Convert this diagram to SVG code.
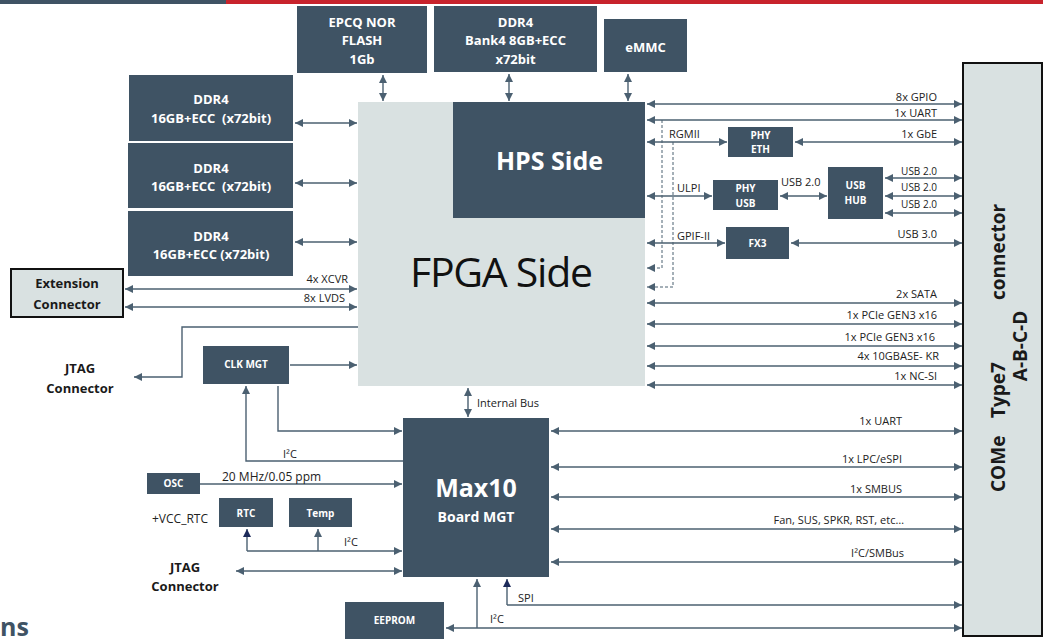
<svg xmlns="http://www.w3.org/2000/svg" width="1043" height="639" viewBox="0 0 1043 639">
<style>
.n{fill:#3f5364}
.g{fill:#d9e1e1}
.t{font-family:"Open Sans","Liberation Sans",sans-serif;font-weight:700;fill:#fff;text-anchor:middle}
.b{font-family:"Open Sans","Liberation Sans",sans-serif;font-weight:700;fill:#1a1a1a;text-anchor:middle;font-size:13px}
.k{font-family:"Open Sans","Liberation Sans",sans-serif;font-weight:700;fill:#1a1a1a;font-size:19px}
.l{font-family:"Open Sans","Liberation Sans",sans-serif;font-size:11px;fill:#222}
.r{text-anchor:end}
.c{stroke:#4b6071;stroke-width:1.4;fill:none}
.d{marker-start:url(#a);marker-end:url(#a)}
.e{marker-end:url(#a)}
.v{marker-end:url(#an)}
.h{stroke-dasharray:3 2;stroke-width:1}
</style>
<defs>
<marker id="a" viewBox="0 0 10 10" refX="10" refY="5" markerWidth="9" markerHeight="8" markerUnits="userSpaceOnUse" orient="auto-start-reverse"><path d="M0,0L10,5L0,10z" fill="#4b6071"/></marker>
<marker id="an" viewBox="0 0 10 10" refX="10" refY="5" markerWidth="9" markerHeight="8" markerUnits="userSpaceOnUse" orient="auto-start-reverse"><path d="M0,0L10,5L0,10z" fill="#1c2a5a"/></marker>
</defs>
<rect x="0" y="0" width="226" height="4" fill="#3f5364"/>
<rect x="226" y="0" width="817" height="4" fill="#c8232c"/>

<g id="connectors">
<path class="c d" d="M383,75V101"/>
<path class="c d" d="M509,74V101"/>
<path class="c d" d="M628,74V101"/>
<path class="c d" d="M295,123H357"/>
<path class="c d" d="M295,183H357"/>
<path class="c d" d="M295,242H357"/>
<path class="c d" d="M125,289H357"/>
<path class="c d" d="M125,307H357"/>
<path class="c e" d="M362,327H182V377H134"/>
<path class="c e" d="M290,365H357"/>
<path class="c d" d="M468,388V417"/>
<path class="c e" d="M403,461H246V386"/>
<path class="c e" d="M278,386V431H402"/>
<path class="c e" d="M200,484H402"/>
<path class="c e" d="M247,551H402"/>
<path class="c v" d="M247,551V529"/>
<path class="c e" d="M318,551V529"/>
<path class="c d" d="M236,571H402"/>
<path class="c d" d="M551,431H962"/>
<path class="c d" d="M551,467H962"/>
<path class="c d" d="M551,497H962"/>
<path class="c d" d="M551,529H962"/>
<path class="c d" d="M551,562H962"/>
<path class="c v" d="M507,605V579"/>
<path class="c e" d="M507,605H962"/>
<path class="c d" d="M446,628H962"/>
<path class="c e" d="M477,628V579"/>
<path class="c d" d="M647,104H962"/>
<path class="c d" d="M647,120H962"/>
<path class="c d" d="M647,142H727"/>
<path class="c d" d="M795,142H962"/>
<path class="c d" d="M647,196H712"/>
<path class="c d" d="M780,196H827"/>
<path class="c d" d="M885,178H962"/>
<path class="c d" d="M885,196H962"/>
<path class="c d" d="M885,213H962"/>
<path class="c d" d="M647,243H725"/>
<path class="c d" d="M791,243H962"/>
<path class="c h e" d="M662,120V268H647"/>
<path class="c h e" d="M673,142V287H647"/>
<path class="c d" d="M647,303H962"/>
<path class="c d" d="M647,324H962"/>
<path class="c d" d="M647,346H962"/>
<path class="c d" d="M647,366H962"/>
<path class="c d" d="M647,385H962"/>
</g>

<g id="labels" class="l">
<text class="r" x="937" y="101">8x GPIO</text>
<text class="r" x="937" y="117">1x UART</text>
<text x="669" y="138">RGMII</text>
<text class="r" x="937" y="138">1x GbE</text>
<text x="677" y="192">ULPI</text>
<text x="781" y="186">USB 2.0</text>
<text class="r" x="937" y="175" font-size="10">USB 2.0</text>
<text class="r" x="937" y="191" font-size="10">USB 2.0</text>
<text class="r" x="937" y="208" font-size="10">USB 2.0</text>
<text x="677" y="240">GPIF-II</text>
<text class="r" x="937" y="238">USB 3.0</text>
<text class="r" x="937" y="298">2x SATA</text>
<text class="r" x="937" y="319">1x PCIe GEN3 x16</text>
<text class="r" x="935" y="341">1x PCIe GEN3 x16</text>
<text class="r" x="939" y="360">4x 10GBASE- KR</text>
<text class="r" x="937" y="380">1x NC-SI</text>
<text class="r" x="902" y="425">1x UART</text>
<text class="r" x="902" y="463">1x LPC/eSPI</text>
<text class="r" x="902" y="493">1x SMBUS</text>
<text class="r" x="904" y="524">Fan, SUS, SPKR, RST, etc…</text>
<text class="r" x="904" y="557">I²C/SMBus</text>
<text x="518" y="602">SPI</text>
<text x="490" y="623">I²C</text>
<text x="477" y="407">Internal Bus</text>
<text class="r" x="348" y="283">4x XCVR</text>
<text class="r" x="345" y="302">8x LVDS</text>
<text x="283" y="458">I²C</text>
<text x="222" y="481" font-size="12">20 MHz/0.05 ppm</text>
<text x="344" y="546">I²C</text>
<text x="152" y="523" font-size="12">+VCC_RTC</text>
</g>

<g id="ddr1"><rect class="n" x="129" y="75" width="164" height="66"/><text class="t" font-size="13" x="211" y="104">DDR4</text><text class="t" font-size="13" x="211" y="123" xml:space="preserve">16GB+ECC  (x72bit)</text></g>
<g id="ddr2"><rect class="n" x="128" y="143" width="165" height="65"/><text class="t" font-size="13" x="211" y="173">DDR4</text><text class="t" font-size="13" x="211" y="191" xml:space="preserve">16GB+ECC  (x72bit)</text></g>
<g id="ddr3"><rect class="n" x="128" y="211" width="165" height="65"/><text class="t" font-size="13" x="211" y="241">DDR4</text><text class="t" font-size="13" x="211" y="259">16GB+ECC (x72bit)</text></g>
<g id="epcq"><rect class="n" x="297" y="6" width="130" height="67"/><text class="t" font-size="13" x="362" y="27">EPCQ NOR</text><text class="t" font-size="13" x="362" y="45">FLASH</text><text class="t" font-size="13" x="362" y="64">1Gb</text></g>
<g id="ddr4bank4"><rect class="n" x="434" y="6" width="163" height="66"/><text class="t" font-size="13" x="515.5" y="27">DDR4</text><text class="t" font-size="13" x="515.5" y="45">Bank4 8GB+ECC</text><text class="t" font-size="13" x="515.5" y="64">x72bit</text></g>
<g id="emmc"><rect class="n" x="604" y="19" width="83" height="53"/><text class="t" font-size="13" x="645.5" y="52">eMMC</text></g>
<g id="fpga"><rect class="g" x="358" y="102" width="287" height="284"/><text x="501.5" y="287" font-family="Open Sans, Liberation Sans, sans-serif" font-size="41" fill="#111" text-anchor="middle" textLength="183">FPGA Side</text></g>
<g id="hps"><rect class="n" x="453" y="102" width="192" height="116"/><text class="t" font-size="25" x="549.5" y="170">HPS Side</text></g>
<g id="phyeth"><rect class="n" x="728" y="127" width="65" height="30"/><text class="t" font-size="10" x="760.5" y="139">PHY</text><text class="t" font-size="10" x="760.5" y="153">ETH</text></g>
<g id="phyusb"><rect class="n" x="713" y="180" width="65" height="30"/><text class="t" font-size="10" x="745.5" y="192">PHY</text><text class="t" font-size="10" x="745.5" y="207">USB</text></g>
<g id="usbhub"><rect class="n" x="828" y="167" width="55" height="52"/><text class="t" font-size="10" x="855.5" y="189">USB</text><text class="t" font-size="10" x="855.5" y="204">HUB</text></g>
<g id="fx3"><rect class="n" x="726" y="227" width="63" height="32"/><text class="t" font-size="10" x="757.5" y="247">FX3</text></g>
<g id="come"><rect class="g" x="963" y="63" width="79" height="573" stroke="#111" stroke-width="2"/>
<text class="k" transform="translate(1005,0) rotate(-90)"><tspan x="-492">COMe</tspan><tspan x="-418">Type7</tspan><tspan x="-300">connector</tspan></text>
<text class="k" text-anchor="middle" transform="translate(1027,346) rotate(-90)">A-B-C-D</text></g>
<g id="ext"><rect class="g" x="11" y="269" width="112" height="48" stroke="#111" stroke-width="2"/><text class="b" x="67" y="288">Extension</text><text class="b" x="67" y="309">Connector</text></g>
<g id="jtag1"><text class="b" x="80" y="373">JTAG</text><text class="b" x="80" y="393">Connector</text></g>
<g id="clkmgt"><rect class="n" x="203" y="346" width="86" height="38"/><text class="t" font-size="10" x="246" y="368">CLK MGT</text></g>
<g id="max10"><rect class="n" x="403" y="418" width="146" height="159"/><text class="t" font-size="25" x="476" y="497">Max10</text><text class="t" font-size="14" x="476" y="522">Board MGT</text></g>
<g id="osc"><rect class="n" x="147" y="473" width="53" height="21"/><text class="t" font-size="10" x="173.5" y="487">OSC</text></g>
<g id="rtc"><rect class="n" x="219" y="498" width="54" height="29"/><text class="t" font-size="10" x="246" y="517">RTC</text></g>
<g id="temp"><rect class="n" x="289" y="498" width="63" height="29"/><text class="t" font-size="10" x="320.5" y="517">Temp</text></g>
<g id="jtag2"><text class="b" x="185" y="572">JTAG</text><text class="b" x="185" y="591">Connector</text></g>
<g id="eeprom"><rect class="n" x="345" y="602" width="99" height="40"/><text class="t" font-size="10" x="394.5" y="624">EEPROM</text></g>
<text x="0" y="636" font-family="Open Sans, Liberation Sans, sans-serif" font-weight="700" font-size="25" fill="#3f5364">ns</text>
</svg>
